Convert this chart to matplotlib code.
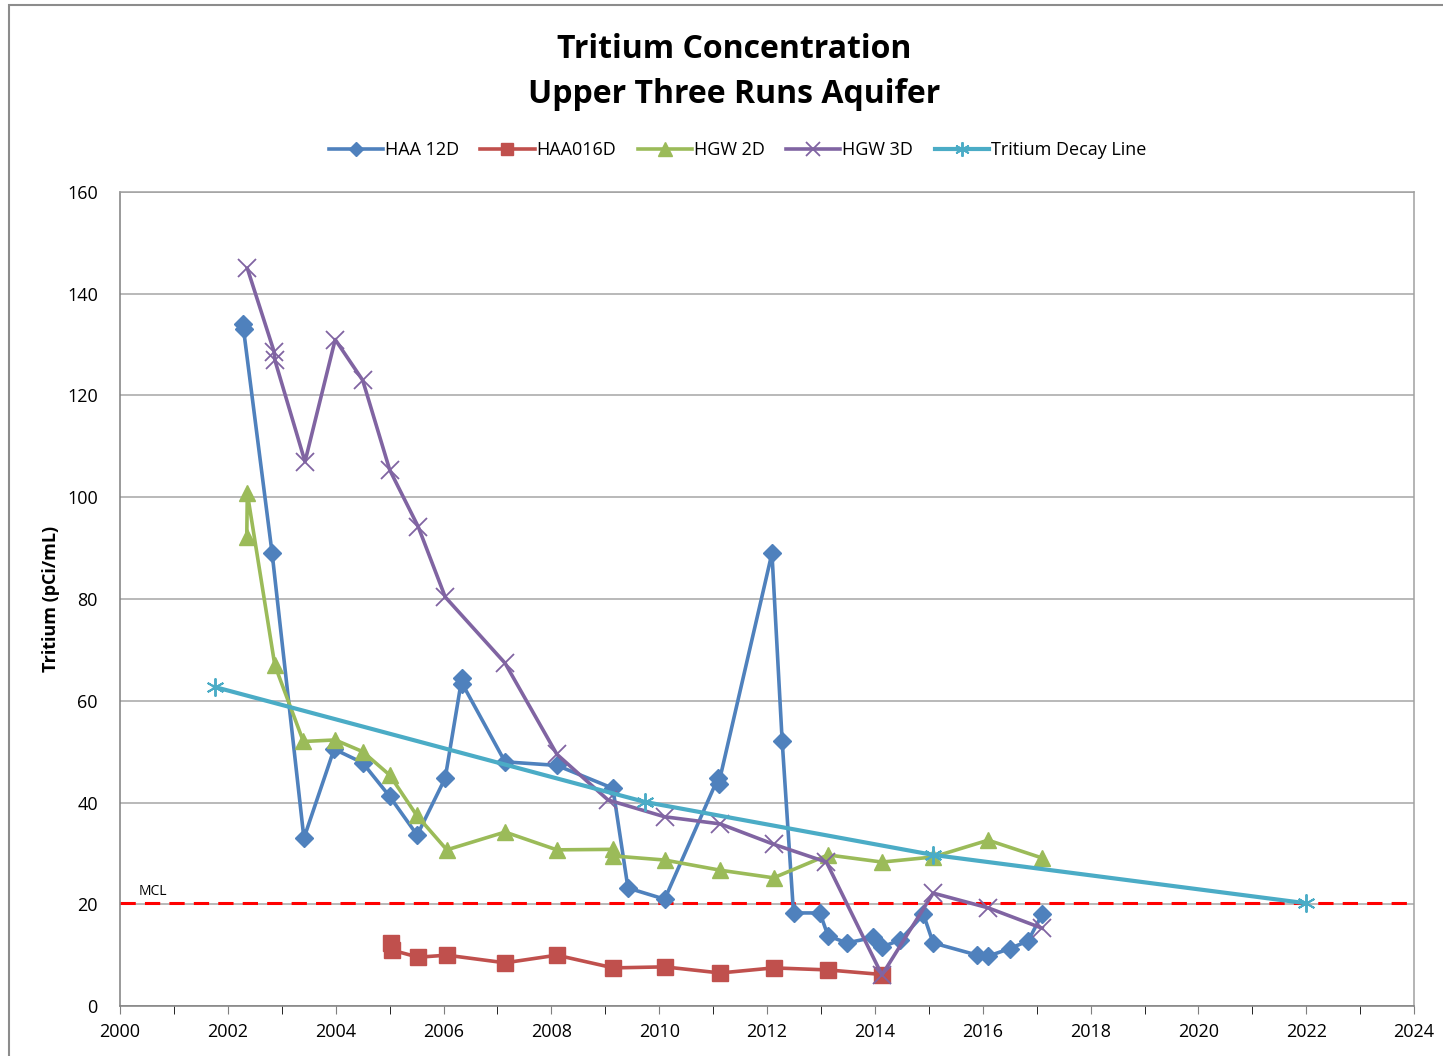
import matplotlib
matplotlib.use('Agg')
from matplotlib import pyplot as plt
from matplotlib.patches import Rectangle

# Series values (decimal year, pCi/mL)
haa12d_x = [2002.28, 2002.29, 2002.82, 2003.41, 2003.97, 2004.5, 2005.0, 2005.51,
            2006.03, 2006.34, 2006.35, 2007.14, 2008.1, 2009.14, 2009.42, 2010.1,
            2011.09, 2011.10, 2012.09, 2012.28, 2012.49, 2012.98, 2013.13, 2013.48,
            2013.97, 2014.13, 2014.47, 2014.9, 2015.08, 2015.9, 2016.1, 2016.5,
            2016.84, 2017.1]
haa12d_y = [134, 133, 89, 33, 50.5, 47.8, 41.2, 33.6,
            44.8, 64.5, 63.3, 48, 47.3, 42.8, 23.2, 21,
            44.8, 43.6, 89, 52, 18.3, 18.3, 13.8, 12.4,
            13.5, 11.6, 13, 18, 12.4, 10, 9.8, 11.3,
            12.8, 18]

haa016d_x = [2005.03, 2005.04, 2005.53, 2006.06, 2007.14, 2008.1, 2009.15, 2010.1,
             2011.13, 2012.12, 2013.13, 2014.13]
haa016d_y = [12.4, 11.0, 9.6, 10.0, 8.5, 10.0, 7.5, 7.7,
             6.5, 7.5, 7.1, 6.2]

hgw2d_x = [2002.35, 2002.36, 2002.87, 2003.4, 2003.99, 2004.5, 2005.0, 2005.5,
           2006.06, 2007.14, 2008.1, 2009.14, 2009.15, 2010.1, 2011.13, 2012.12,
           2013.13, 2014.13, 2015.08, 2016.1, 2017.1]
hgw2d_y = [92.2, 100.8, 67.0, 52.0, 52.3, 50.0, 45.4, 37.5,
           30.7, 34.2, 30.7, 30.8, 29.5, 28.7, 26.7, 25.2,
           29.7, 28.3, 29.3, 32.6, 29.1]

hgw3d_x = [2002.36, 2002.86, 2002.87, 2003.43, 2003.99, 2004.5, 2005.0, 2005.53,
           2006.03, 2007.14, 2008.1, 2009.05, 2010.1, 2011.13, 2012.12, 2013.1,
           2014.13, 2015.08, 2016.1, 2017.1]
hgw3d_y = [145, 128.5, 127, 107, 131, 123, 105.4, 94.2,
           80.4, 67.4, 49.5, 40.5, 37.2, 35.8, 31.8, 28.3,
           6.1, 22.2, 19.3, 15.3]

decay_x = [2001.76, 2009.74, 2015.08, 2022.0]
decay_y = [62.7, 40.1, 29.7, 20.2]

mcl = 20.2

plt.rcParams['font.family'] = ['Open Sans', 'DejaVu Sans']

fig = plt.figure(figsize=(14.43, 10.56), dpi=100)
ax = fig.add_axes([0.0832, 0.0473, 0.8968, 0.7709])

# outer chart border
fig.patches.append(Rectangle((0.006, -0.01), 1.2, 1.005, transform=fig.transFigure,
                             fill=False, edgecolor='#8c8c8c', linewidth=1.5))

lw = 2.6
ax.plot(haa12d_x, haa12d_y, color='#4F81BD', lw=lw, marker='D', ms=9,
        label='HAA 12D', zorder=3)
ax.plot(haa016d_x, haa016d_y, color='#C0504D', lw=lw, marker='s', ms=11,
        label='HAA016D', zorder=3)
ax.plot(hgw2d_x, hgw2d_y, color='#9BBB59', lw=lw, marker='^', ms=12,
        label='HGW 2D', zorder=3)
ax.plot(hgw3d_x, hgw3d_y, color='#8064A2', lw=lw, marker='x', ms=13, mew=1.3,
        label='HGW 3D', zorder=3)
ax.plot(decay_x, decay_y, color='#4BACC6', lw=lw + 0.4, marker=(6, 2, 0), ms=13,
        mew=1.4, label='Tritium Decay Line', zorder=3)

ax.axhline(mcl, color='red', lw=2.2, ls=(0, (5, 3)), zorder=2)
ax.text(2000.35, mcl + 0.8, 'MCL', fontsize=10, ha='left', va='bottom')

ax.set_xlim(2000, 2024)
ax.set_ylim(0, 160)
ax.set_xticks(range(2000, 2025, 2))
ax.set_xticks(range(2000, 2025, 1), minor=True)
ax.set_yticks(range(0, 161, 20))
ax.yaxis.grid(True, color='#a6a6a6', lw=1.1, zorder=0)
ax.set_axisbelow(True)
for s in ax.spines.values():
    s.set_color('#a0a0a0')
    s.set_linewidth(1.1)
ax.spines['left'].set_color('#7f7f7f')
ax.spines['bottom'].set_color('#7f7f7f')
ax.tick_params(axis='both', labelsize=13, direction='out', color='#7f7f7f')
ax.tick_params(axis='x', which='major', length=6, pad=6)
ax.tick_params(axis='x', which='minor', length=6)
ax.tick_params(axis='y', length=0, pad=16)

ax.set_ylabel('Tritium (pCi/mL)', fontsize=13, fontweight='bold', labelpad=5)

fig.text(0.5085, 0.969, 'Tritium Concentration\nUpper Three Runs Aquifer',
         fontsize=23, fontweight='bold', ha='center', va='top', linespacing=1.5)

fig.legend(*ax.get_legend_handles_labels(), loc='center',
           bbox_to_anchor=(0.511, 0.858), ncol=5, frameon=False,
           fontsize=13, handlelength=3, handletextpad=0.1, columnspacing=1.2,
           markerscale=0.8)

fig.savefig('out.png', dpi=100)
